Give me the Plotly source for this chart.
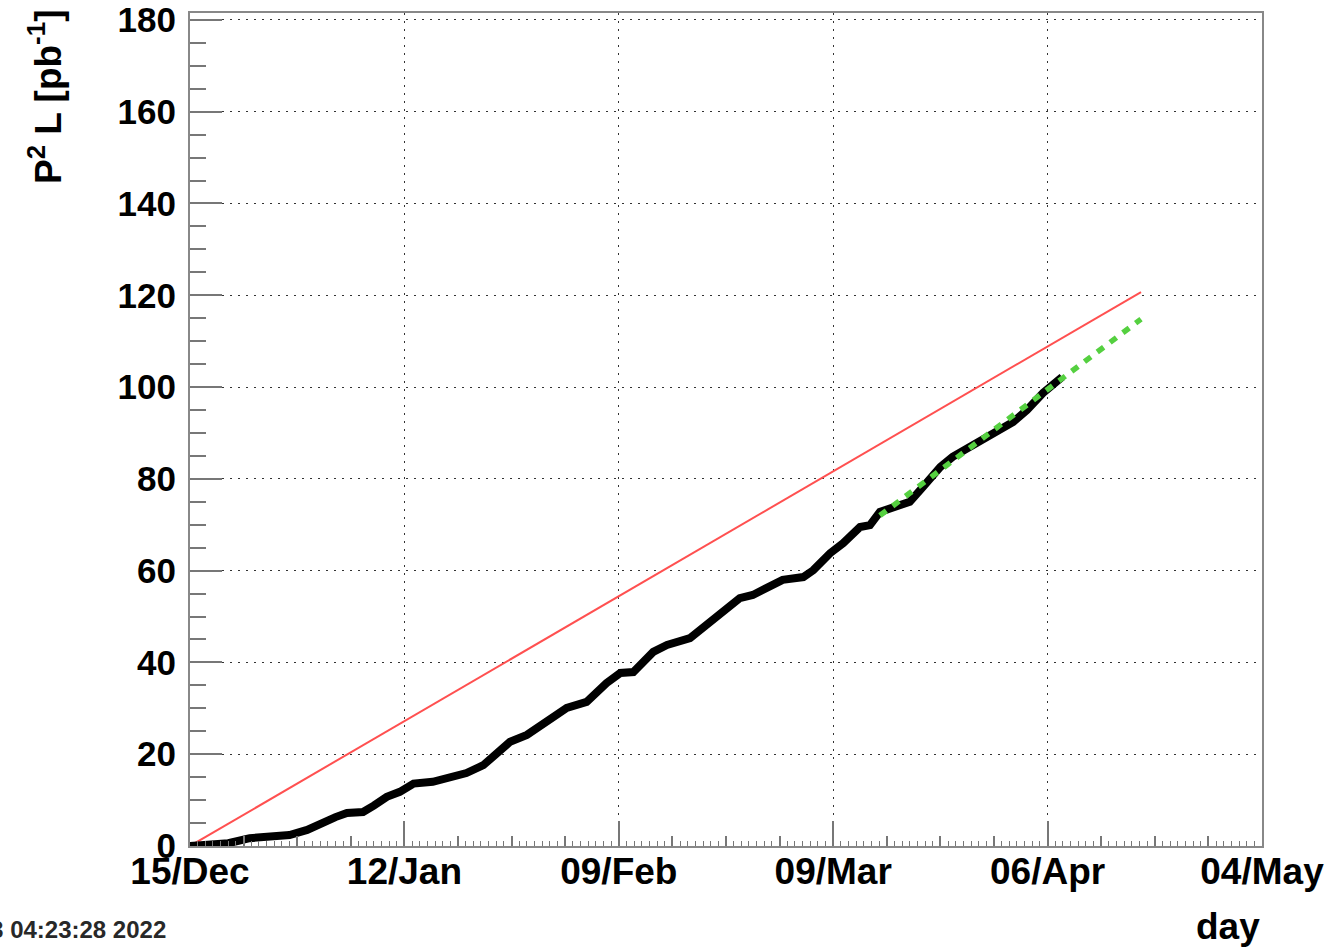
import pandas as pd
import plotly.graph_objects as go

# ---- data (days since 15 Dec 2021, cumulative P^2 L in pb^-1) ----
start_date = "2021-12-15"
data_days = [0, 3, 5, 7.8, 10, 13, 15.3, 17, 19, 20.5, 22.6, 24, 25.7, 27.4, 29.2,
             31.7, 33.5, 36.1, 38.3, 40, 41.8, 44, 47, 49.2, 51.8, 54.4, 56.2, 57.9,
             60.5, 62.3, 65.3, 66.6, 69.2, 71.8, 73.5, 75.3, 77.4, 80.1, 81.4, 83.6,
             85.3, 87.5, 88.8, 90.1, 91.8, 94.0, 95.7, 98.0, 99.6, 102.8, 104.9,
             107.5, 109.3, 111.4, 113.9]
data_lumi = [0, 0.2, 0.6, 1.7, 2.0, 2.4, 3.5, 5.0, 6.3, 7.2, 7.4, 8.8, 10.7, 11.8, 13.6,
             14.0, 14.8, 15.9, 17.6, 20.0, 22.7, 24.2, 27.9, 30.1, 31.4, 35.5, 37.7, 37.9,
             42.3, 43.8, 45.3, 47.1, 50.8, 54.0, 54.7, 56.4, 58.0, 58.6, 60.1, 63.8,
             66.0, 69.5, 69.9, 72.8, 73.9, 75.0, 78.2, 82.6, 84.8, 87.8, 90.2,
             92.4, 95.0, 98.7, 102.2]
target_days = [0, 124.2]
target_lumi = [0, 120.7]
proj_days = [90.1, 124.2]
proj_lumi = [72.0, 114.8]

x_range = ["2021-12-15", "2022-05-04"]
y_range = [0, 181.5]
timestamp = "Fri Apr  8 04:23:28 2022"


def to_dates(days):
    return pd.Timestamp(start_date) + pd.to_timedelta(days, unit="D")


FONT = "Liberation Sans"
GRID = "#333"

fig = go.Figure()
fig.add_trace(go.Scatter(x=to_dates(target_days), y=target_lumi, mode="lines",
                         line=dict(color="rgb(255,80,80)", width=2), showlegend=False))
fig.add_trace(go.Scatter(x=to_dates(data_days), y=data_lumi, mode="lines",
                         line=dict(color="black", width=8), showlegend=False))
fig.add_trace(go.Scatter(x=to_dates(proj_days), y=proj_lumi, mode="lines",
                         line=dict(color="rgb(85,208,64)", width=5.5, dash="8px,8px"),
                         showlegend=False))
# invisible trace to carry the weekly tick axis
fig.add_trace(go.Scatter(x=to_dates([0]), y=[0], xaxis="x2", mode="markers",
                         marker=dict(opacity=0), showlegend=False, hoverinfo="skip"))

fig.update_layout(
    width=1336, height=950,
    margin=dict(l=190, r=74, t=13, b=104, autoexpand=False),
    paper_bgcolor="white", plot_bgcolor="white",
    font=dict(family=FONT, color="black"),
    xaxis=dict(
        type="date", range=x_range, automargin=False,
        tick0=start_date, dtick=28 * 86400000, tickformat="%d/%b",
        ticks="inside", ticklen=25, tickwidth=2, tickcolor="#777",
        tickfont=dict(family=FONT, size=37, weight="bold", color="black"),
        ticklabelstandoff=-8, ticklabeloverflow="allow",
        showgrid=True, gridcolor=GRID, gridwidth=1, griddash="2px,6px",
        showline=True, linecolor="#888", linewidth=2, mirror=True,
        zeroline=False,
        minor=dict(ticks="inside", ticklen=5, tickwidth=1, tickcolor="#777",
                   dtick=86400000, tick0=start_date, showgrid=False),
    ),
    xaxis2=dict(
        type="date", range=x_range, overlaying="x", side="bottom", automargin=False,
        tick0=start_date, dtick=7 * 86400000,
        ticks="inside", ticklen=10, tickwidth=1.5, tickcolor="#777",
        showticklabels=False, showgrid=False, showline=False, zeroline=False,
    ),
    yaxis=dict(
        range=y_range, dtick=20, tick0=0, automargin=False,
        ticks="inside", ticklen=32, tickwidth=2, tickcolor="#777",
        tickfont=dict(family=FONT, size=35, weight="bold", color="black"),
        ticklabelstandoff=5, ticklabeloverflow="allow",
        showgrid=True, gridcolor=GRID, gridwidth=1, griddash="2px,6px",
        showline=True, linecolor="#888", linewidth=2, mirror=True,
        zeroline=False,
        minor=dict(ticks="inside", ticklen=16, tickwidth=1.5, tickcolor="#777",
                   dtick=5, showgrid=False),
    ),
    annotations=[
        dict(text="P<sup>2</sup> L [pb<sup>-1</sup>]", xref="paper", yref="paper",
             x=(45 - 190) / 1072, y=(846 - 8) / 833, xanchor="center", yanchor="top",
             textangle=-90, showarrow=False,
             font=dict(family=FONT, size=37, weight="bold", color="black")),
        dict(text="day", xref="paper", yref="paper", x=1.0, y=(846 - 926) / 833,
             xanchor="right", yanchor="middle", showarrow=False,
             font=dict(family=FONT, size=37, weight="bold", color="black")),
        dict(text=timestamp, xref="paper", yref="paper", x=(168 - 190) / 1072,
             y=(846 - 929) / 833, xanchor="right", yanchor="middle", showarrow=False,
             font=dict(family=FONT, size=24, weight="bold", color="rgb(40,40,40)")),
    ],
)

fig.write_html("out.html", config={"displayModeBar": False},
               post_script="document.body.style.margin='0px';")
